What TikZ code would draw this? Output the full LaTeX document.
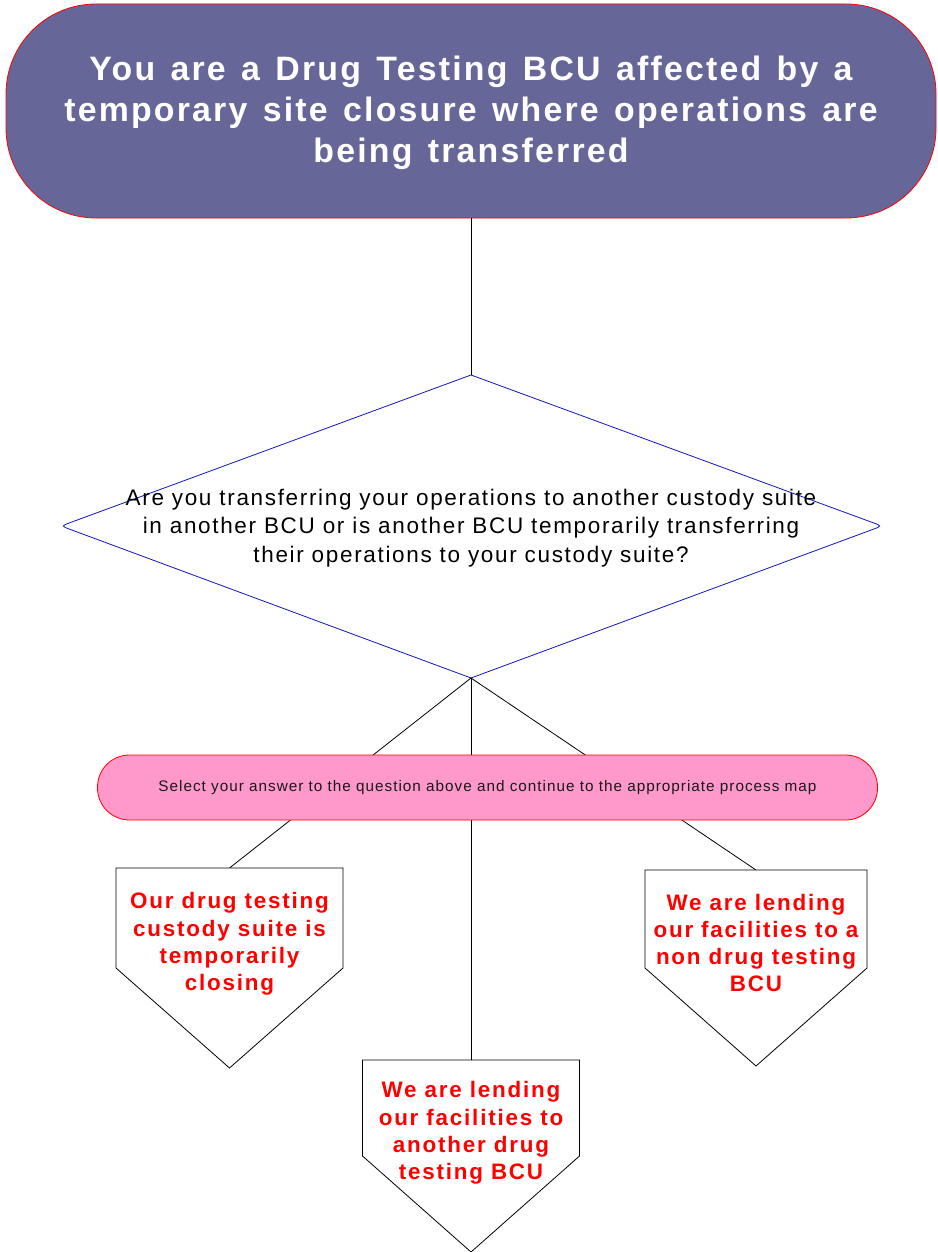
\documentclass[tikz,border=0pt]{standalone}
\usepackage{fontspec}
\setmainfont{Liberation Sans}
\newfontfamily\titlefont[LetterSpace=6.5]{Liberation Sans}
\newfontfamily\questionfont[LetterSpace=7.4]{Liberation Sans}
\newfontfamily\answerfont[LetterSpace=8]{Liberation Sans}
\newfontfamily\notefont[LetterSpace=6.5]{Liberation Sans}
\newcommand\widerwords{\spaceskip=\dimexpr\fontdimen2\font+3.8pt\relax}
\usetikzlibrary{calc}

\definecolor{titlefill}{RGB}{102,102,153}
\definecolor{notefill}{RGB}{255,153,204}
\definecolor{qblue}{RGB}{20,20,190}

\begin{document}
\begin{tikzpicture}[x=1pt,y=-1pt,
  conn/.style={draw=black, line width=0.8pt},
  startbox/.style={draw=red, fill=titlefill, line width=0.8pt, rounded corners=90pt,
    minimum width=930pt, minimum height=214pt, inner sep=0pt, outer sep=0pt},
  starttext/.style={text=white, align=center, inner sep=0pt,
    font=\titlefont\bfseries\fontsize{33.85}{41}\selectfont\widerwords},
  questiontext/.style={align=center, inner sep=0pt, text=black,
    font=\questionfont\fontsize{22.5}{28.5}\selectfont},
  qline/.style={draw=qblue, fill=white, line width=0.8pt},
  notebox/.style={draw=red, fill=notefill, line width=0.8pt, rounded corners=32pt,
    minimum width=780pt, minimum height=65pt, inner sep=0pt, outer sep=0pt,
    text=black!90, font=\notefont\fontsize{15.3}{18}\selectfont},
  answerbox/.style={draw=none, inner sep=0pt, outer sep=0pt},
  boxline/.style={draw=black, fill=white, line width=0.8pt},
  answertext/.style={align=center, inner sep=0pt, text=red,
    font=\answerfont\bfseries\fontsize{22.4}{27.3}\selectfont}]

\useasboundingbox (0,0) rectangle (937,1252);

% start terminator
\node[startbox] (start) at (471,111) {};
\node[starttext] (starttitle) at (471,113)
  {You are a Drug Testing BCU affected by a\\
   temporary site closure where operations are\\
   being transferred};

% decision diamond: sharp top/bottom, rounded side tips
\coordinate (qN) at (471,375);
\coordinate (qS) at (471,678);
\coordinate (qW) at (61,526);
\coordinate (qE) at (882,526);
\draw[conn] (start.south) -- (qN);
\draw[qline] (qN) -- ($(qW)!10pt!(qN)$) .. controls (qW) .. ($(qW)!10pt!(qS)$)
  -- (qS) -- ($(qE)!10pt!(qS)$) .. controls (qE) .. ($(qE)!10pt!(qN)$) -- cycle;
\node[questiontext] (qtext) at (471,528)
  {Are you transferring your operations to another custody suite\\
   in another BCU or is another BCU temporarily transferring\\
   their operations to your custody suite?};

% answer shapes (pentagon markers)
\node[answerbox, minimum width=227pt, minimum height=200pt] (a1) at (229.5,968) {};
\node[answerbox, minimum width=217pt, minimum height=192pt] (a2) at (471,1156) {};
\node[answerbox, minimum width=222pt, minimum height=196pt] (a3) at (756,968) {};

% connectors from the decision to each answer
\draw[conn] (qS) -- (a1.north);
\draw[conn] (qS) -- (a2.north);
\draw[conn] (qS) -- (a3.north);

% instruction banner over the connectors
\node[notebox] (note) at (487.5,787.5)
  {Select your answer to the question above and continue to the appropriate process map};

\foreach \b in {a1,a2,a3}
  \draw[boxline] (\b.north west) -- (\b.north east) -- (\b.east) -- (\b.south) -- (\b.west) -- cycle;

\node[answertext] (a1t) at ([yshift=24pt]a1.center)
  {Our drug testing\\ custody suite is\\ temporarily\\ closing};
\node[answertext] (a2t) at ([yshift=23pt]a2.center)
  {We are lending\\ our facilities to\\ another drug\\ testing BCU};
\node[answertext] (a3t) at ([yshift=25pt]a3.center)
  {We are lending\\ our facilities to a\\ non drug testing\\ BCU};
\end{tikzpicture}
\end{document}
